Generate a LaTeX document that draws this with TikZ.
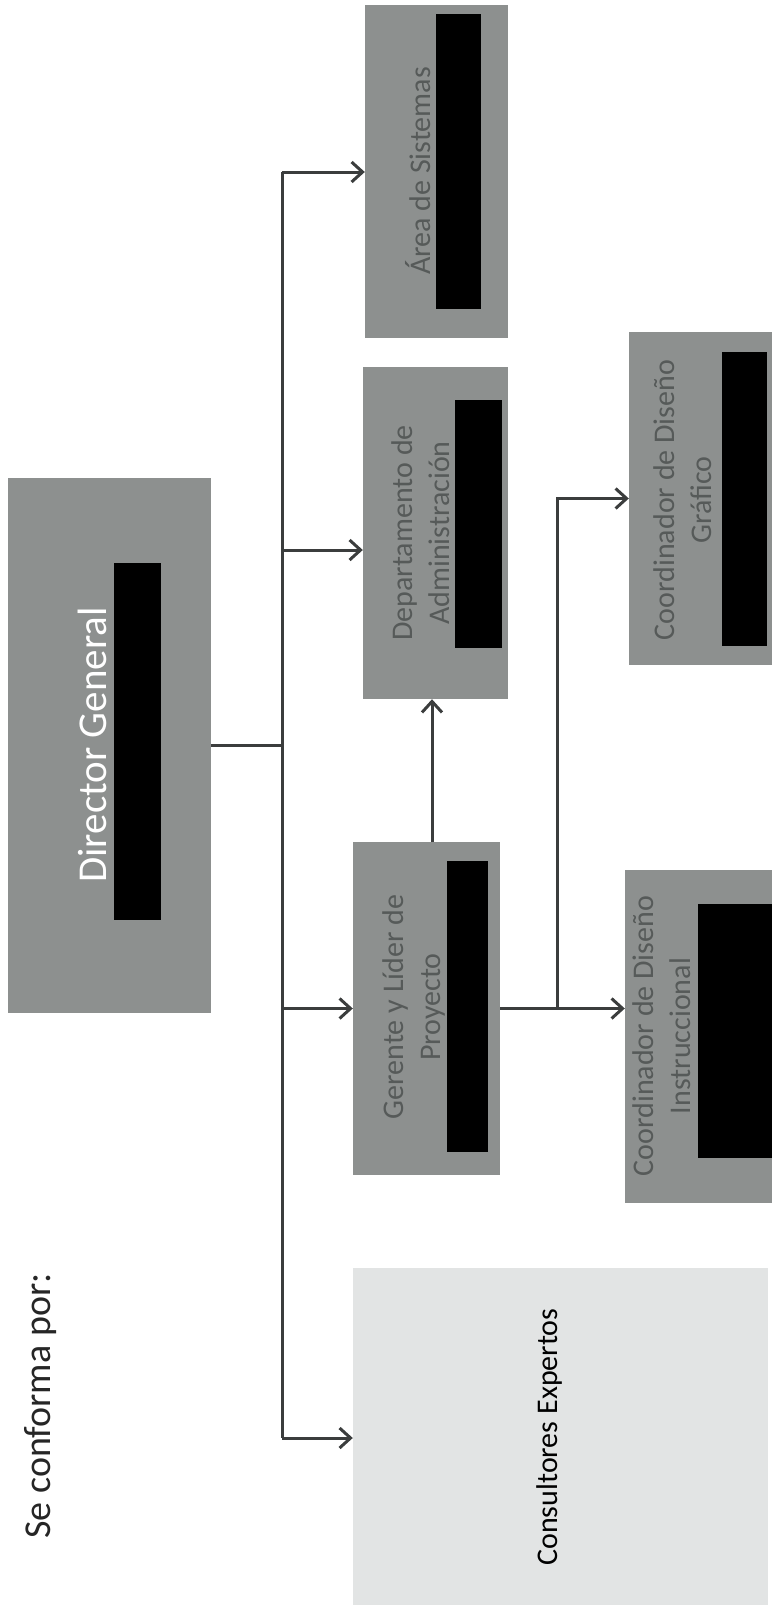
\documentclass[tikz,border=0pt]{standalone}
\usepackage{fontspec}
\setmainfont{Carlito}
\usetikzlibrary{arrows.meta}
\definecolor{boxgray}{HTML}{8D908F}
\definecolor{txtgray}{HTML}{565A59}
\definecolor{linegray}{HTML}{3B3D3D}
\definecolor{lightgray}{HTML}{E2E4E4}
\begin{document}
\begin{tikzpicture}[x=1pt,y=-1pt,
  box/.style={fill=boxgray,inner sep=0pt},
  lbl/.style={rotate=90,align=center,inner sep=0pt,text=txtgray,font=\fontsize{30}{37}\selectfont},
  link/.style={draw=linegray,line width=3pt},
  arr/.style={link,-{Straight Barb[length=11pt,width=20pt]}}]
\useasboundingbox (0,0) rectangle (772,1606);
% boxes
\node[box,minimum width=203pt,minimum height=535pt] (dir) at (109.5,745.5) {};
\node[box,minimum width=143pt,minimum height=333pt] (sis) at (436.5,171.5) {};
\node[box,minimum width=145pt,minimum height=332pt] (adm) at (435.5,533) {};
\node[box,minimum width=147pt,minimum height=333pt] (ger) at (426.5,1008.5) {};
\node[box,minimum width=143pt,minimum height=333pt] (gra) at (700.5,498.5) {};
\node[box,minimum width=147pt,minimum height=333pt] (ins) at (698.5,1036.5) {};
\node[box,fill=lightgray,minimum width=415pt,minimum height=337pt] (con) at (560.5,1436.5) {};
% redacted names
\fill[black] (114,563) rectangle (161,920);
\fill[black] (436,14) rectangle (481,309);
\fill[black] (455,400) rectangle (502,648);
\fill[black] (447,861) rectangle (488,1152);
\fill[black] (722,352) rectangle (767,646);
\fill[black] (698,904) rectangle (772,1158);
% connectors
\coordinate (bustop) at (282,172);
\coordinate (busbot) at (282,1438);
\coordinate (busadm) at (282,550);
\coordinate (gerup) at (432,842);
\coordinate (split) at (557,1008.5);
\draw[link] (dir.east) -- (dir.east -| bustop);
\draw[link] (bustop) -- (busbot);
\draw[arr] (bustop) -- (bustop -| sis.west);
\draw[arr] (busadm) -- (busadm -| adm.west);
\draw[arr] (bustop |- ger.west) -- (ger.west);
\draw[arr] (busbot) -- (busbot -| con.west);
\draw[arr] (gerup) -- (gerup |- adm.south);
\draw[arr] (ger.east) -- (ger.east -| ins.west);
\draw[arr] (split) |- (gra.west);
% labels
\node[lbl,text=white,font=\fontsize{41}{48}\selectfont] (dirt) at (92,745) {Director General};
\node[lbl] (sist) at (418,171) {Área de Sistemas};
\node[lbl] (admt) at (420.5,533) {Departamento de\\Administración};
\node[lbl] (gert) at (413.5,1007) {Gerente y Líder de\\Proyecto};
\node[lbl] (grat) at (682.5,500) {Coordinador de Diseño\\Gráfico};
\node[lbl] (inst) at (662,1036) {Coordinador de Diseño\\Instruccional};
\node[lbl,text=black] (cont) at (549,1437) {Consultores Expertos};
\node[lbl,text=black!85,font=\fontsize{38}{46}\selectfont] (se) at (41,1406) {Se conforma por:};
\end{tikzpicture}
\end{document}
